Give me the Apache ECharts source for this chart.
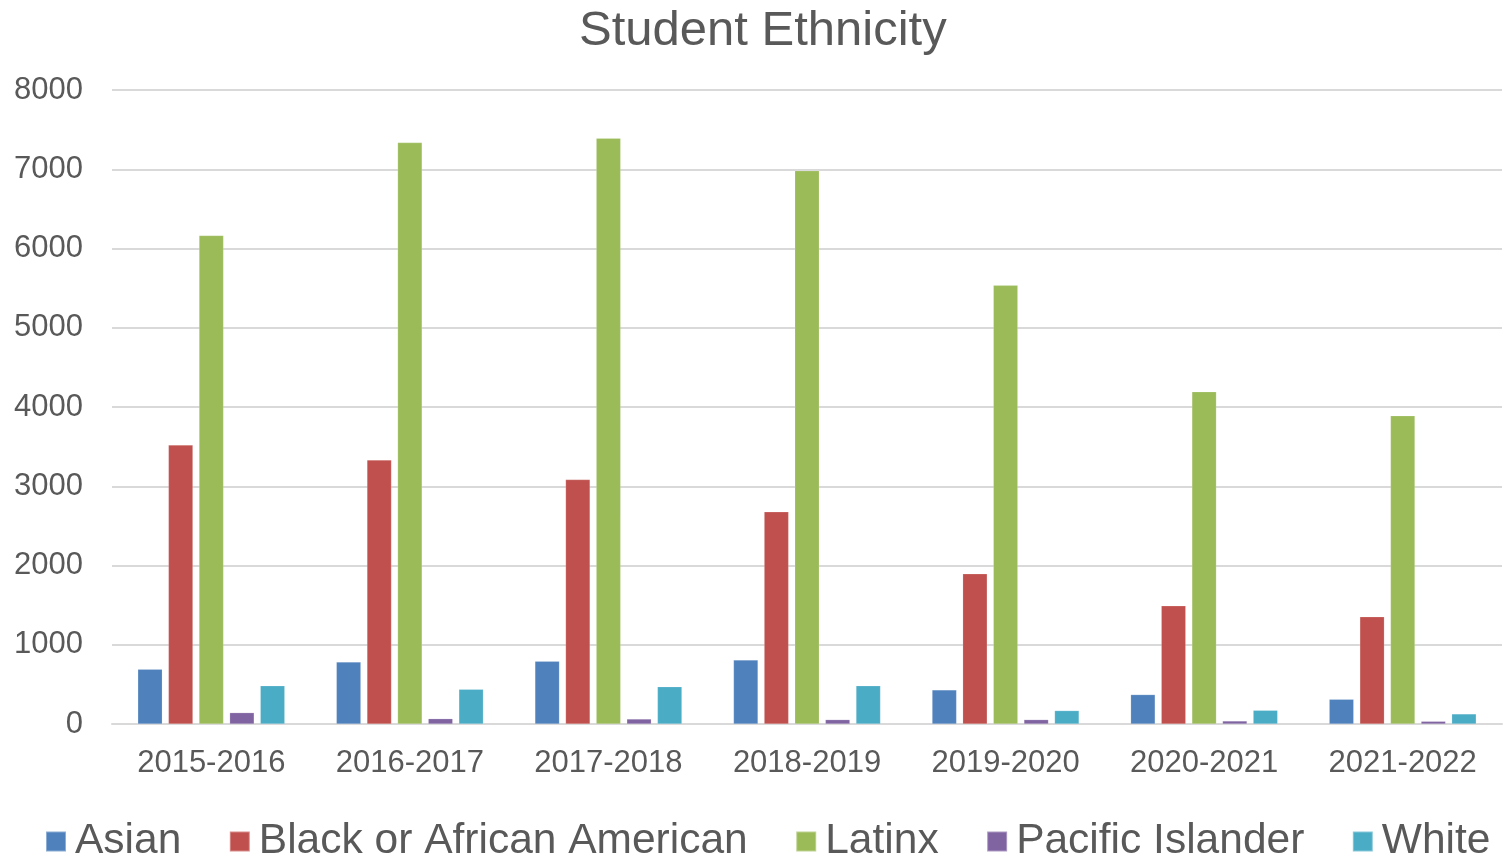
<!DOCTYPE html>
<html>
<head>
<meta charset="utf-8">
<script src="https://cdn.jsdelivr.net/npm/echarts@6/dist/echarts.min.js"></script>
<style>
html,body{margin:0;padding:0;background:#fff;}
#chart{width:1509px;height:856px;}
</style>
</head>
<body>
<div id="chart"></div>
<script>
const categories = ['2015-2016','2016-2017','2017-2018','2018-2019','2019-2020','2020-2021','2021-2022'];
const asian = [692, 782, 791, 808, 430, 371, 312];
const black = [3520, 3331, 3084, 2677, 1895, 1491, 1353];
const latinx = [6164, 7336, 7391, 6982, 5535, 4193, 3890];
const pacific = [143, 67, 63, 55, 55, 38, 34];
const white = [483, 438, 471, 483, 169, 173, 127];
const yTicks = {min: 0, max: 8000, interval: 1000};

const FONT = '"Liberation Sans", Arial, sans-serif';
const colors = ['#4F81BD','#C0504D','#9BBB59','#8064A2','#4BACC6'];
const names = ['Asian','Black or African American','Latinx','Pacific Islander','White'];
const datasets = [asian, black, latinx, pacific, white];

const chart = echarts.init(document.getElementById('chart'), null, {renderer:'canvas'});
chart.setOption({
  animation: false,
  backgroundColor: '#ffffff',
  color: colors,
  title: {
    text: 'Student Ethnicity',
    left: 579,
    top: 7,
    padding: 0,
    textStyle: {fontFamily: FONT, fontSize: 49, fontWeight: 'normal', color: '#595959'}
  },
  legend: {
    data: names,
    left: 45,
    top: 820,
    width: 1500,
    padding: 0,
    itemWidth: 20,
    itemHeight: 20,
    itemGap: 47.5,
    icon: 'rect',
    textStyle: {fontFamily: FONT, fontSize: 42.5, color: '#595959', padding: [0,0,0,4]}
  },
  grid: {left: 112, right: 7, top: 90, bottom: 132, containLabel: false},
  xAxis: {
    type: 'category',
    data: categories,
    axisLine: {show: true, lineStyle: {color: '#D9D9D9', width: 2}},
    axisTick: {show: false},
    axisLabel: {fontFamily: FONT, fontSize: 31, color: '#595959', margin: 24}
  },
  yAxis: {
    type: 'value',
    min: yTicks.min,
    max: yTicks.max,
    interval: yTicks.interval,
    axisLine: {show: false},
    axisTick: {show: false},
    splitLine: {lineStyle: {color: '#D9D9D9', width: 2}},
    axisLabel: {fontFamily: FONT, fontSize: 31, color: '#595959', margin: 29, formatter: v => String(v)}
  },
  series: datasets.map((d, i) => ({
    name: names[i],
    type: 'bar',
    data: d,
    barWidth: 24.5,
    barGap: '25%',
    itemStyle: {color: colors[i], borderColor: 'rgba(255,255,255,0.35)', borderWidth: 0.5}
  }))
});
</script>
</body>
</html>
